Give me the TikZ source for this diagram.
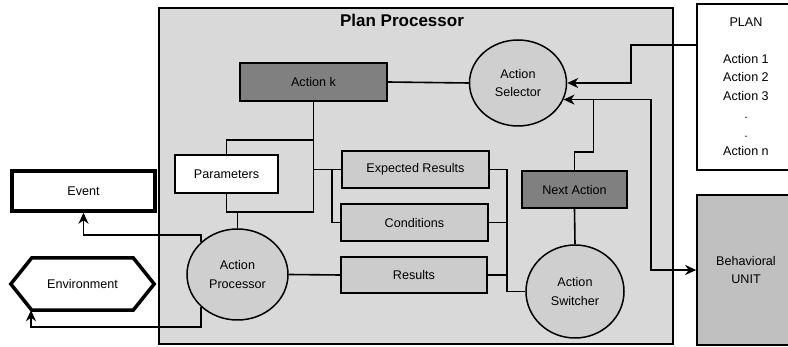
\documentclass[tikz,border=0pt]{standalone}
\usepackage{fontspec}
\setmainfont{Liberation Sans}
\usetikzlibrary{calc,arrows.meta,shapes.geometric}
\definecolor{ppgray}{HTML}{D9D9D9}
\definecolor{darkbox}{HTML}{808080}
\definecolor{lightbox}{HTML}{CCCCCC}
\definecolor{ovalgray}{HTML}{CFCFCF}
\definecolor{behgray}{HTML}{C0C0C0}
\begin{document}
\begin{tikzpicture}[x=1pt,y=-1pt,
  font=\fontsize{12.6}{18.5}\selectfont,
  frame/.style={draw,line width=1.7pt,fill=ppgray,inner sep=0pt},
  dark/.style={draw,line width=1.6pt,fill=darkbox,inner sep=0pt},
  light/.style={draw,line width=1.6pt,fill=lightbox,inner sep=0pt},
  plain/.style={draw,line width=1.6pt,fill=white,inner sep=0pt,align=center},
  oval/.style={ellipse,draw,line width=1.5pt,fill=ovalgray,inner sep=0pt,align=center},
  ln/.style={line width=1.6pt},
  arr/.style={ln,-{Stealth[length=11pt,width=10pt,inset=3.5pt]}},
  arrs/.style={ln,{Stealth[length=11pt,width=10pt,inset=3.5pt]}-{Stealth[length=11pt,width=10pt,inset=3.5pt]}}]
\useasboundingbox (0,0) rectangle (788,347);
\node[frame,minimum width=514pt,minimum height=336pt] (pp) at (416,176) {};
\node[font=\fontsize{17}{20}\selectfont\bfseries] (title) at (402,20) {Plan Processor};
\node[dark,minimum width=147pt,minimum height=38pt] (ak) at (313.5,82) {Action k};
\node[oval,minimum width=97pt,minimum height=86pt] (sel) at (518,83) {Action\\Selector};
\node[plain,minimum width=103pt,minimum height=38pt] (params) at (226.5,174) {Parameters};
\node[light,minimum width=147pt,minimum height=37pt] (er) at (415.5,169.5) {Expected Results};
\node[light,minimum width=147pt,minimum height=37pt] (cond) at (414.5,222.5) {Conditions};
\node[light,minimum width=146pt,minimum height=36pt] (res) at (414,275) {Results};
\node[dark,minimum width=105pt,minimum height=37pt] (na) at (574.5,189.5) {Next Action};
\node[oval,minimum width=98pt,minimum height=93pt] (sw) at (575,291.5) {Action\\Switcher};
\node[oval,minimum width=101pt,minimum height=91pt] (proc) at (237.5,274.5) {Action\\Processor};
\node[plain,line width=3.5pt,minimum width=143pt,minimum height=40pt] (event) at (83.5,191) {Event};
\node[inner sep=0pt,minimum width=101pt,minimum height=52pt] (env) at (82.5,284) {Environment};
\draw[line width=3.5pt] (env.north west) -- (env.north east) -- ($(env.east)+(21,0)$)
  -- (env.south east) -- (env.south west) -- ($(env.west)+(-21,0)$) -- cycle;
\node[plain,minimum width=98pt,minimum height=166pt] (plan) at (746,87)
  {PLAN\\[18pt]Action 1\\Action 2\\Action 3\\.\\.\\Action n};
\node[draw,line width=1.6pt,fill=behgray,inner sep=0pt,align=center,
  minimum width=98pt,minimum height=150pt] (beh) at (746,270) {Behavioral\\UNIT};

\draw[ln] (ak.east) -- (sel.west);
\draw[ln] (ak.south) -- ++(0,110) coordinate (tb) -| (params.south);
\draw[ln] (proc.north) -- (proc.north |- tb);
\draw[ln] ($(ak.south)+(0,38)$) -| (params.north);
\draw[ln] (ak.south |- er.west) -- (er.west);
\draw[ln] ($(er.west)+(-9,0)$) |- (cond.west);
\draw[ln] (er.east) -- ++(17,0) coordinate (rt) |- (sw.west);
\draw[ln] (cond.east) -- (cond.east -| rt);
\draw[ln] (res.east) -- (res.east -| rt);
\draw[ln] (proc.east) -- (res.west);
\draw[ln] (na.south) -- (sw.north);
\draw[ln] (na.north) -- ++(0,-18) -| ($(sel.-20)+(30,0)$);
\draw[arr] ($(plan.north west)+(0,42)$) -- ++(-65,0) |- (sel.east);
\draw[arrs] (sel.-20) -| ($(beh.west)+(-45,0)$) -- (beh.west);
\draw[arr] (proc.138) |- ($(event.south)+(0,22)$) -- (event.south);
\draw[arr] (proc.222) |- ($(env.south)+(-51.5,17)$) -- ($(env.south)+(-51.5,0)$);
\end{tikzpicture}
\end{document}
